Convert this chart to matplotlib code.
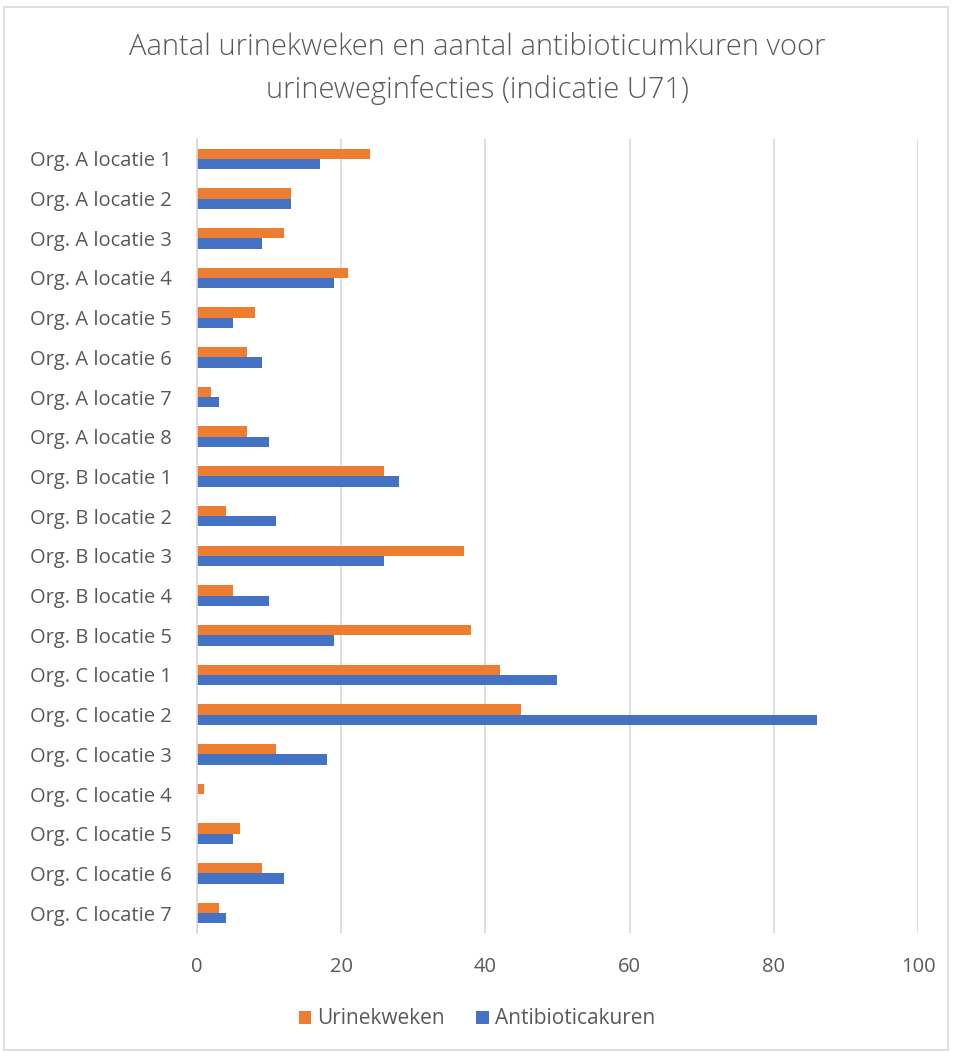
import matplotlib.pyplot as plt
from matplotlib.patches import Rectangle
import numpy as np

# Data
locaties = ['Org. A locatie 1', 'Org. A locatie 2', 'Org. A locatie 3', 'Org. A locatie 4',
            'Org. A locatie 5', 'Org. A locatie 6', 'Org. A locatie 7', 'Org. A locatie 8',
            'Org. B locatie 1', 'Org. B locatie 2', 'Org. B locatie 3', 'Org. B locatie 4',
            'Org. B locatie 5', 'Org. C locatie 1', 'Org. C locatie 2', 'Org. C locatie 3',
            'Org. C locatie 4', 'Org. C locatie 5', 'Org. C locatie 6', 'Org. C locatie 7']
urinekweken = [24, 13, 12, 21, 8, 7, 2, 7, 26, 4, 37, 5, 38, 42, 45, 11, 1, 6, 9, 3]
antibioticakuren = [17, 13, 9, 19, 5, 9, 3, 10, 28, 11, 26, 10, 19, 50, 86, 18, 0, 5, 12, 4]
x_ticks = [0, 20, 40, 60, 80, 100]

plt.rcParams['font.family'] = ['Open Sans', 'DejaVu Sans']
text_color = '#595959'
grid_color = '#d9d9d9'

W, H = 954, 1052
fig = plt.figure(figsize=(W / 100, H / 100), dpi=100)

# chart area border
fig.patches.append(Rectangle((4 / W, 2 / H), 944 / W, 1043 / H, transform=fig.transFigure,
                             fill=False, edgecolor='#d9d9d9', linewidth=1.2))

ax = fig.add_axes([197 / W, 1 - 933 / H, (918 - 197) / W, (933 - 139) / H])

y = np.arange(len(locaties))
h = 0.26
ax.barh(y - h / 2, urinekweken, height=h, color='#ed7d31', label='Urinekweken', zorder=3)
ax.barh(y + h / 2, antibioticakuren, height=h, color='#4472c4', label='Antibioticakuren', zorder=3)

ax.set_ylim(len(locaties) - 0.5, -0.5)
ax.set_xlim(0, 100)
ax.set_xticks(x_ticks)
ax.set_yticks(y)
ax.set_yticklabels(locaties)
ax.tick_params(axis='both', length=0, labelsize=14.5, colors=text_color)
ax.tick_params(axis='y', pad=18)
ax.tick_params(axis='x', pad=17)

ax.grid(axis='x', color=grid_color, linewidth=1.2, zorder=0)
for side in ['top', 'right', 'bottom']:
    ax.spines[side].set_visible(False)
ax.spines['left'].set_color(grid_color)
ax.spines['left'].set_linewidth(1.2)
ax.spines['left'].set_zorder(4)

fig.text(0.5, 1 - 69 / H, 'Aantal urinekweken en aantal antibioticumkuren voor\nurineweginfecties (indicatie U71)',
         ha='center', va='center', fontsize=21, color=text_color, linespacing=1.55,
         fontweight='light')

fig.legend(loc='center', bbox_to_anchor=(0.5, 1 - 1019 / H), ncol=2, frameon=False,
           fontsize=15, labelcolor=text_color, handlelength=0.6, handleheight=0.6,
           handletextpad=0.3, columnspacing=1.5)

plt.savefig('out.png', dpi=100)
